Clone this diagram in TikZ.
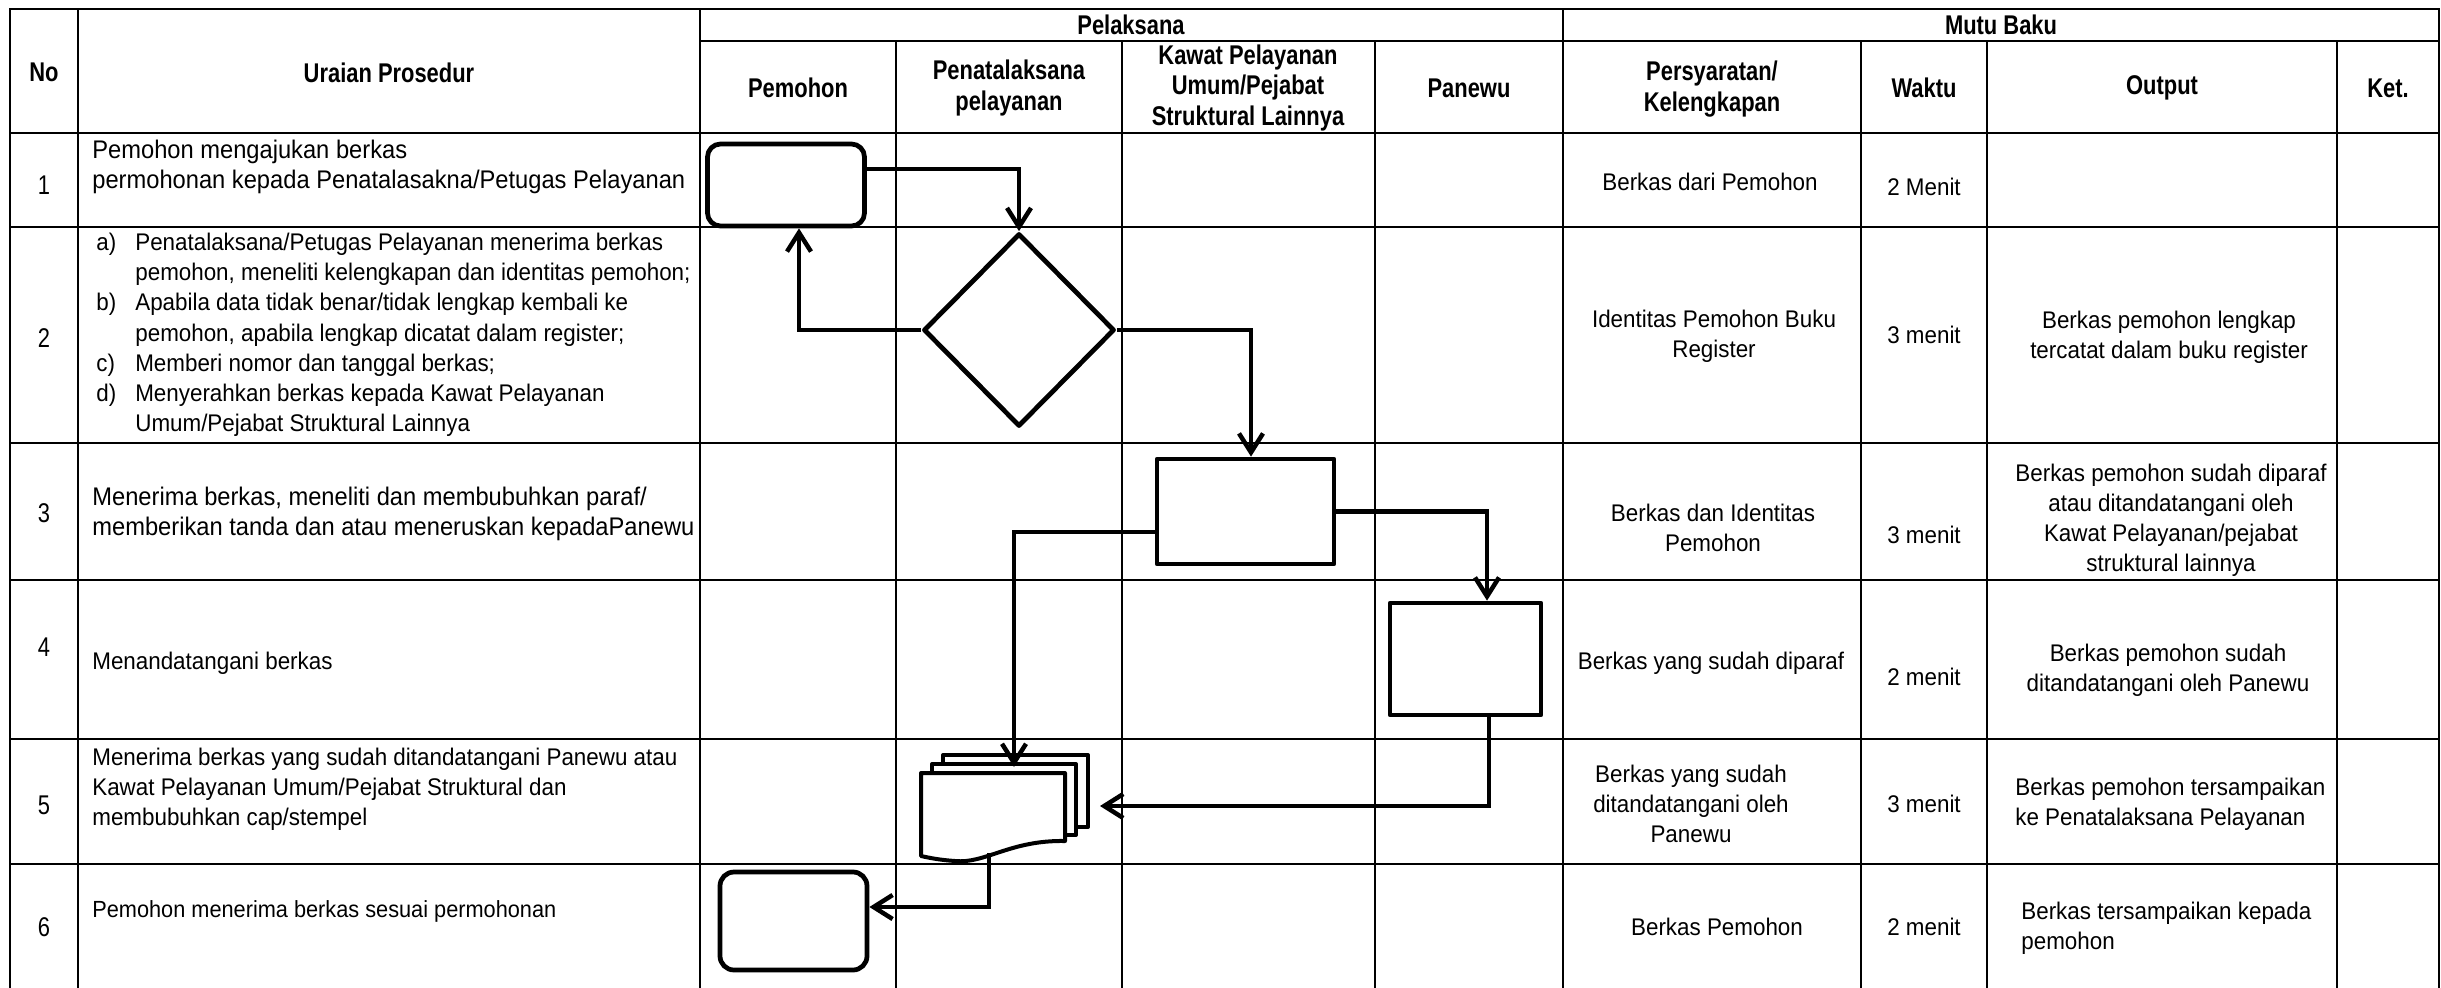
\documentclass[tikz,border=0pt]{standalone}
\usepackage{fontspec}
\setmainfont[FakeStretch=0.93]{Liberation Sans}
\newfontfamily\narrowfont[FakeStretch=0.81]{Liberation Sans}
\usetikzlibrary{shapes.geometric,arrows.meta}

\tikzset{
  gridline/.style={line width=0.4mm, line cap=rect},
  flow/.style={draw, line width=0.95mm, fill=white, inner sep=0pt, line join=round},
  startbox/.style={flow, rounded corners=2.6mm},
  procbox/.style={flow},
  decision/.style={flow, diamond},
  page/.style={draw, line width=0.8mm, fill=white, line join=round},
  conn/.style={line width=0.9mm, ->},
  head/.style={font=\narrowfont\bfseries\fontsize{15.4}{17.4}\selectfont, align=center, inner sep=0pt},
  num/.style={font=\narrowfont\fontsize{15.4}{18}\selectfont, inner sep=0pt},
  body/.style={font=\fontsize{13.7}{17.1}\selectfont, align=left, inner sep=0pt},
  bodywide/.style={body, font=\fontsize{14.5}{17.1}\selectfont},
  bodyslim/.style={body, font=\fontsize{13.3}{17.1}\selectfont},
  cell/.style={font=\fontsize{13.7}{17.1}\selectfont, align=center, inner sep=0pt},
}

\begin{document}
\begin{tikzpicture}[x=0.2mm, y=-0.2mm, >={Straight Barb[length=3.8mm,width=4.8mm]}]
  \useasboundingbox (0,0) rectangle (2441,987);

  % table
  \draw[gridline] (10,9) -- (2439,9);
  \draw[gridline] (700,41) -- (2439,41);
  \foreach \y in {133,227,443,580,739,864}
    \draw[gridline] (10,\y) -- (2439,\y);
  \foreach \x in {10,78,700,1563,2439}
    \draw[gridline] (\x,9) -- (\x,987);
  \foreach \x in {896,1122,1375,1861,1987,2337}
    \draw[gridline] (\x,41) -- (\x,987);

  % header
  \node[head] at (44,72)    (hno)  {No};
  \node[head] at (389,73)   (hur)  {Uraian Prosedur};
  \node[head] at (1131,25)  (hpel) {Pelaksana};
  \node[head] at (2001,25)  (hmut) {Mutu Baku};
  \node[head] at (798,88)   (hpem) {Pemohon};
  \node[head] at (1009,88)  (hpen) {Penatalaksana\\pelayanan};
  \node[head] at (1248,88)  (hkaw) {Kawat Pelayanan\\Umum/Pejabat\\Struktural Lainnya};
  \node[head] at (1469,88)  (hpan) {Panewu};
  \node[head] at (1712,89)  (hsyr) {Persyaratan/\\Kelengkapan};
  \node[head] at (1924,88)  (hwkt) {Waktu};
  \node[head] at (2162,88)  (hout) {Output};
  \node[head] at (2388,88)  (hket) {Ket.};

  % nomor
  \node[num] at (44,185) (n1) {1};
  \node[num] at (44,338) (n2) {2};
  \node[num] at (44,513) (n3) {3};
  \node[num] at (44,647) (n4) {4};
  \node[num] at (44,805) (n5) {5};
  \node[num] at (44,927) (n6) {6};

  % uraian prosedur
  \node[bodywide, anchor=west] at (92,167) (u1) {Pemohon mengajukan berkas\\permohonan kepada Penatalasakna/Petugas Pelayanan};
  \node[body, anchor=west] at (96,335) (u2) {%
    \begin{tabular}{@{}p{7.8mm}@{}l@{}}
      a) & Penatalaksana/Petugas Pelayanan menerima berkas\\
         & pemohon, meneliti kelengkapan dan identitas pemohon;\\
      b) & Apabila data tidak benar/tidak lengkap kembali ke\\
         & pemohon, apabila lengkap dicatat dalam register;\\
      c) & Memberi nomor dan tanggal berkas;\\
      d) & Menyerahkan berkas kepada Kawat Pelayanan\\
         & Umum/Pejabat Struktural Lainnya
    \end{tabular}};
  \node[bodywide, anchor=west] at (92,514) (u3) {Menerima berkas, meneliti dan membubuhkan paraf/\\memberikan tanda dan atau meneruskan kepadaPanewu};
  \node[body, anchor=west] at (92,663) (u4) {Menandatangani berkas};
  \node[body, anchor=west] at (92,789) (u5) {Menerima berkas yang sudah ditandatangani Panewu atau\\Kawat Pelayanan Umum/Pejabat Struktural dan\\membubuhkan cap/stempel};
  \node[bodyslim, anchor=west] at (92,911) (u6) {Pemohon menerima berkas sesuai permohonan};

  % persyaratan
  \node[cell] at (1710,182) (s1) {Berkas dari Pemohon};
  \node[cell] at (1714,336) (s2) {Identitas Pemohon Buku\\Register};
  \node[cell] at (1713,528) (s3) {Berkas dan Identitas\\Pemohon};
  \node[cell] at (1711,663) (s4) {Berkas yang sudah diparaf};
  \node[cell] at (1691,804) (s5) {Berkas yang sudah\\ditandatangani oleh\\Panewu};
  \node[cell] at (1717,927) (s6) {Berkas Pemohon};

  % waktu
  \node[cell] at (1924,187) (w1) {2 Menit};
  \node[cell] at (1924,335) (w2) {3 menit};
  \node[cell] at (1924,535) (w3) {3 menit};
  \node[cell] at (1924,677) (w4) {2 menit};
  \node[cell] at (1924,804) (w5) {3 menit};
  \node[cell] at (1924,927) (w6) {2 menit};

  % output
  \node[cell] at (2169,337) (o2) {Berkas pemohon lengkap\\tercatat dalam buku register};
  \node[cell] at (2171,520) (o3) {Berkas pemohon sudah diparaf\\atau ditandatangani oleh\\Kawat Pelayanan/pejabat\\struktural lainnya};
  \node[cell] at (2168,670) (o4) {Berkas pemohon sudah\\ditandatangani oleh Panewu};
  \node[cell, align=left, anchor=west] at (2015,804) (o5) {Berkas pemohon tersampaikan\\ke Penatalaksana Pelayanan};
  \node[cell, align=left, anchor=west] at (2021,928) (o6) {Berkas tersampaikan kepada\\pemohon};

  % bagan alir
  \node[startbox, minimum width=31.4mm, minimum height=16.4mm] at (786,185) (mohon) {};
  \node[decision, minimum width=38.2mm, minimum height=38.6mm] at (1019,330) (cek) {};
  \node[procbox, minimum width=35.4mm, minimum height=21mm] at (1245.5,511.5) (teliti) {};
  \node[procbox, minimum width=30.2mm, minimum height=22.4mm] at (1465.5,659) (ttd) {};
  \node[startbox, rounded corners=2.8mm, minimum width=29.4mm, minimum height=19.6mm] at (793.5,921) (selesai) {};

  \draw[page] (943,755) rectangle (1088,827);
  \draw[page] (932,764) rectangle (1076,835);
  \draw[page] (921,773) -- (1065,773) -- (1065,841)
    .. controls (1010,840) and (985,864) .. (955,861)
    .. controls (940,860) and (930,858) .. (921,856) -- cycle;
  \coordinate (docin) at (1014,767);
  \coordinate (docright) at (1100,806);
  \coordinate (docout) at (989,853);

  \draw[conn] ([yshift=3.2mm]mohon.east) -| (cek.north);
  \draw[conn] (cek.west) -| ([xshift=2.6mm]mohon.south);
  \draw[conn] (cek.east) -| ([xshift=1.1mm]teliti.north);
  \draw[conn] (teliti.east) -| ([xshift=4.3mm]ttd.north);
  \draw[conn] ([yshift=-4.1mm]teliti.west) -| (docin);
  \draw[conn] ([xshift=4.7mm]ttd.south) |- (docright);
  \draw[conn] (docout) |- ([yshift=2.8mm]selesai.east);
\end{tikzpicture}
\end{document}
